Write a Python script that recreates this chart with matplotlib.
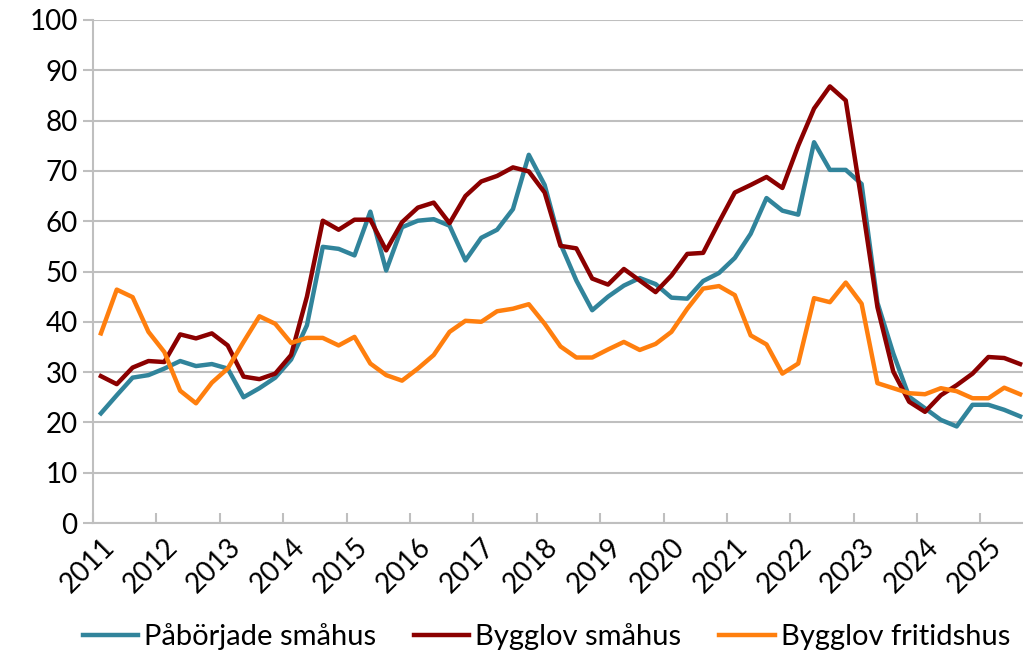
import numpy as np
import matplotlib.pyplot as plt

plt.rcParams['font.family'] = ['Lato', 'DejaVu Sans']

years = [str(y) for y in range(2011, 2026)]

# quarterly values, 2011 Q1 .. 2025 Q3
paborjade = [21.8, 25.4, 28.9, 29.4, 30.7, 32.2, 31.2, 31.6, 30.7, 25.0, 26.8, 28.9,
             32.5, 39.3, 54.9, 54.5, 53.2, 61.9, 50.2, 58.8, 60.1, 60.4, 59.1, 52.2,
             56.7, 58.3, 62.4, 73.2, 67.2, 55.5, 48.2, 42.3, 45.0, 47.2, 48.7, 47.5,
             44.8, 44.6, 48.1, 49.7, 52.7, 57.5, 64.6, 62.1, 61.3, 75.7, 70.2, 70.2,
             67.4, 43.8, 33.7, 25.1, 22.8, 20.5, 19.2, 23.5, 23.5, 22.5, 21.2]
bygglov = [29.2, 27.6, 30.9, 32.2, 32.0, 37.5, 36.7, 37.7, 35.3, 29.1, 28.6, 29.7,
           33.4, 45.0, 60.1, 58.3, 60.3, 60.3, 54.2, 59.8, 62.7, 63.7, 59.6, 65.0,
           67.9, 69.0, 70.7, 69.9, 65.7, 55.1, 54.6, 48.6, 47.4, 50.5, 48.2, 45.9,
           49.2, 53.5, 53.7, 59.8, 65.7, 67.2, 68.8, 66.6, 75.0, 82.4, 86.8, 84.0,
           64.0, 42.9, 30.1, 24.1, 22.1, 25.4, 27.4, 29.7, 33.0, 32.8, 31.6]
fritidshus = [37.7, 46.4, 44.9, 38.0, 34.0, 26.3, 23.8, 27.9, 30.7, 36.0, 41.1, 39.6,
              35.8, 36.8, 36.8, 35.3, 37.0, 31.7, 29.4, 28.3, 30.7, 33.4, 38.0, 40.2,
              40.0, 42.1, 42.6, 43.5, 39.6, 35.1, 32.9, 32.9, 34.5, 36.0, 34.4, 35.6,
              38.0, 42.6, 46.6, 47.1, 45.3, 37.3, 35.5, 29.7, 31.7, 44.7, 43.9, 47.8,
              43.6, 27.8, 26.8, 25.8, 25.6, 26.8, 26.2, 24.8, 24.8, 26.9, 25.6]

x = np.arange(len(paborjade)) + 0.5
grid_col = '#BFBFBF'

fig = plt.figure(figsize=(10.23, 6.52), dpi=100)
ax = fig.add_axes([93 / 1023, 129 / 652, 935 / 1023, 503 / 652])

ax.plot(x, paborjade, color='#31849B', lw=3.2, label='Påbörjade småhus', zorder=3)
ax.plot(x, bygglov, color='#8B0000', lw=3.2, label='Bygglov småhus', zorder=3)
ax.plot(x, fritidshus, color='#FF7F0E', lw=3.2, label='Bygglov fritidshus', zorder=3)

ax.set_ylim(0, 100)
ax.set_xlim(0, 59)
ax.set_yticks(range(0, 101, 10))
ax.yaxis.grid(True, color=grid_col, lw=1.5)
ax.set_axisbelow(True)

# tick marks at year boundaries, labels on first quarter
ax.set_xticks(np.arange(0, 60, 4))
ax.set_xticklabels([])
ax.set_xticks(np.arange(0, 60, 4) + 0.5, minor=True)
ax.set_xticklabels(years, minor=True, rotation=45, ha='right', rotation_mode='anchor', fontsize=20)
ax.tick_params(axis='x', which='major', direction='in', length=7, color=grid_col, width=1.5)
ax.tick_params(axis='x', which='minor', length=0, pad=8)
ax.tick_params(axis='y', direction='out', length=7, color=grid_col, width=1.5, labelsize=20, pad=4)

for s in ['top', 'right']:
    ax.spines[s].set_visible(False)
ax.spines['left'].set_color(grid_col)
ax.spines['bottom'].set_color(grid_col)
ax.spines['left'].set_linewidth(1.5)
ax.spines['bottom'].set_linewidth(1.5)

fig.legend(loc='center', bbox_to_anchor=(0.534, 0.023), ncol=3, frameon=False,
           fontsize=21, handlelength=1.9, handletextpad=0.2, columnspacing=1.3)

fig.savefig('out.png', dpi=100)
